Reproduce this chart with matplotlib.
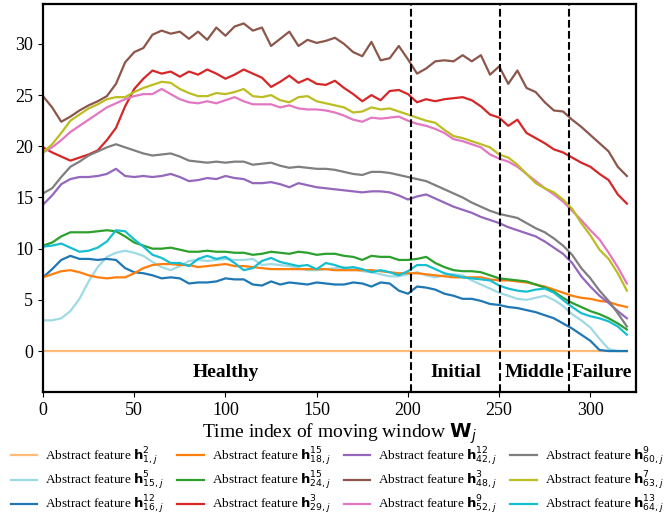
import matplotlib
matplotlib.use("Agg")
import matplotlib.pyplot as plt

plt.rcParams['font.family'] = ['Liberation Serif', 'DejaVu Sans']
plt.rcParams['mathtext.fontset'] = 'dejavusans'

# time index (sampled every 5 windows)
t = list(range(0, 321, 5))

# abstract feature curves
h1_2 = [0.0] * len(t)
h15_5 = [3.0, 3.0, 3.2, 3.9, 5.1, 6.8, 8.2, 9.2, 9.6, 9.8, 9.6, 9.3, 8.7, 8.2, 7.9, 8.3,
         8.8, 8.9, 8.8, 8.9, 9.0, 8.9, 8.9, 9.0, 8.4, 8.5, 8.4, 8.3, 8.1, 7.9, 7.9, 8.0,
         8.1, 8.2, 8.0, 7.8, 7.7, 7.5, 7.3, 7.3, 7.5, 7.7, 7.4, 7.2, 7.4, 7.5, 7.4, 6.9,
         6.5, 6.1, 5.7, 5.4, 5.1, 5.0, 5.2, 5.4, 5.0, 4.4, 3.6, 3.0, 2.3, 1.2, 0.2, 0.0, 0.0]
h16_12 = [7.2, 8.0, 8.9, 9.3, 9.0, 9.0, 8.9, 9.0, 8.9, 8.1, 7.7, 7.6, 7.4, 7.1, 7.2, 7.1,
          6.6, 6.7, 6.7, 6.8, 7.1, 7.0, 7.0, 6.5, 6.4, 6.8, 6.5, 6.7, 6.6, 6.5, 6.7, 6.6,
          6.5, 6.5, 6.7, 6.6, 6.3, 6.7, 6.6, 5.9, 5.6, 6.3, 6.2, 6.0, 5.6, 5.4, 5.1, 5.1,
          4.9, 4.6, 4.5, 4.3, 4.2, 4.0, 3.8, 3.5, 3.2, 2.7, 2.2, 1.6, 1.0, 0.1, 0.0, 0.0, 0.0]
h18_15 = [7.2, 7.5, 7.8, 7.9, 7.7, 7.4, 7.2, 7.1, 7.2, 7.2, 7.6, 8.1, 8.4, 8.5, 8.5, 8.4,
          8.4, 8.2, 8.3, 8.4, 8.5, 8.3, 8.3, 8.2, 8.1, 8.0, 8.0, 8.0, 8.0, 8.0, 8.0, 8.0,
          7.9, 7.9, 7.9, 7.9, 7.9, 7.8, 7.7, 7.6, 7.6, 7.6, 7.5, 7.4, 7.3, 7.2, 7.2, 7.2,
          7.2, 7.0, 6.9, 6.9, 6.8, 6.7, 6.5, 6.3, 6.0, 5.7, 5.4, 5.2, 5.1, 4.9, 4.8, 4.5, 4.3]
h24_15 = [10.3, 10.6, 11.2, 11.6, 11.6, 11.6, 11.7, 11.8, 11.7, 11.2, 10.6, 10.3, 10.0, 10.0,
          10.1, 9.9, 9.7, 9.7, 9.8, 9.7, 9.7, 9.6, 9.6, 9.4, 9.5, 9.7, 9.6, 9.5, 9.7, 9.6,
          9.4, 9.5, 9.5, 9.3, 9.2, 8.9, 9.3, 9.2, 9.2, 8.9, 8.9, 9.0, 9.2, 8.6, 8.2, 7.9,
          7.8, 7.8, 7.7, 7.4, 7.1, 7.0, 6.9, 6.8, 6.5, 6.2, 5.8, 5.2, 4.7, 4.3, 3.9, 3.6,
          3.2, 2.7, 2.1]
h29_3 = [19.9, 19.4, 19.0, 18.6, 18.9, 19.2, 19.6, 20.6, 21.8, 23.9, 25.6, 26.6, 27.4, 27.1,
         27.3, 26.8, 27.3, 27.0, 27.5, 27.1, 26.6, 27.0, 27.5, 27.1, 26.7, 25.8, 26.3, 26.9,
         26.2, 26.6, 26.1, 26.0, 26.4, 25.7, 25.1, 24.4, 25.0, 24.5, 25.4, 25.5, 25.1, 24.3,
         24.6, 24.4, 24.6, 24.7, 24.8, 24.5, 23.9, 23.1, 22.8, 22.0, 22.6, 21.3, 20.8, 20.3,
         19.7, 19.4, 18.9, 18.4, 18.0, 17.3, 16.7, 15.3, 14.4]
h42_12 = [14.3, 15.2, 16.3, 16.8, 17.0, 17.0, 17.1, 17.3, 17.8, 17.1, 17.0, 17.1, 17.0, 17.1,
          17.3, 17.0, 16.6, 16.7, 16.9, 16.8, 17.1, 16.9, 16.8, 16.4, 16.4, 16.5, 16.3, 16.0,
          16.4, 16.2, 16.0, 15.9, 15.8, 15.7, 15.6, 15.5, 15.6, 15.6, 15.5, 15.2, 14.8, 15.1,
          15.3, 14.9, 14.5, 14.1, 13.8, 13.5, 13.1, 12.8, 12.5, 12.1, 11.8, 11.5, 11.2, 10.7,
          10.1, 9.5, 8.6, 7.3, 6.3, 5.4, 4.7, 3.9, 3.2]
h48_3 = [24.9, 23.8, 22.4, 22.9, 23.5, 24.0, 24.4, 24.9, 26.1, 28.2, 29.2, 29.6, 30.9, 31.3,
         31.0, 31.2, 30.5, 31.2, 30.4, 31.6, 30.8, 31.7, 32.0, 31.3, 31.6, 29.8, 30.5, 31.2,
         29.8, 30.4, 30.1, 30.3, 30.6, 30.0, 29.2, 28.8, 30.2, 28.4, 28.6, 29.8, 28.5, 27.1,
         27.6, 28.3, 28.4, 28.3, 28.9, 28.3, 28.9, 27.0, 27.8, 26.1, 27.4, 25.7, 25.3, 24.3,
         23.5, 23.4, 22.6, 21.9, 21.1, 20.3, 19.5, 18.0, 17.1]
h52_9 = [19.4, 19.9, 20.6, 21.4, 22.0, 22.6, 23.2, 23.8, 24.2, 24.6, 24.9, 25.1, 25.1, 25.6,
         25.1, 24.6, 24.3, 24.2, 24.4, 24.2, 24.5, 24.8, 24.4, 24.1, 24.1, 24.1, 23.8, 24.0,
         23.7, 23.6, 23.6, 23.5, 23.3, 23.0, 22.6, 22.4, 22.8, 22.7, 22.8, 22.9, 22.5, 22.2,
         22.0, 21.7, 21.3, 20.7, 20.5, 20.2, 19.9, 19.2, 18.8, 18.5, 18.0, 17.3, 16.6, 15.9,
         15.3, 14.6, 13.7, 12.8, 11.8, 10.9, 9.6, 8.2, 6.6]
h60_9 = [15.4, 15.9, 17.0, 18.0, 18.5, 19.1, 19.5, 19.9, 20.2, 19.9, 19.6, 19.3, 19.1, 19.2,
         19.3, 19.0, 18.6, 18.5, 18.4, 18.5, 18.4, 18.5, 18.5, 18.2, 18.3, 18.4, 18.1, 17.9,
         18.0, 17.9, 17.8, 17.8, 17.7, 17.5, 17.3, 17.2, 17.5, 17.5, 17.4, 17.2, 17.0, 16.8,
         16.6, 16.2, 15.8, 15.4, 15.0, 14.5, 14.1, 13.7, 13.4, 13.2, 13.0, 12.5, 12.0, 11.6,
         11.0, 10.3, 9.4, 8.1, 7.1, 5.9, 4.9, 3.7, 2.4]
h63_7 = [19.4, 20.2, 21.3, 22.5, 23.1, 23.7, 24.1, 24.6, 24.8, 24.8, 25.3, 25.7, 26.0, 26.3,
         26.2, 25.6, 25.2, 24.9, 24.9, 25.2, 25.1, 25.3, 25.6, 24.9, 24.8, 25.0, 24.5, 24.3,
         24.8, 24.9, 24.4, 24.2, 24.0, 23.8, 23.3, 23.4, 23.8, 23.6, 23.7, 23.4, 23.1, 22.8,
         22.5, 22.3, 21.6, 21.0, 20.8, 20.5, 20.2, 19.9, 19.2, 18.9, 18.2, 17.3, 16.4, 15.9,
         15.5, 14.8, 13.9, 12.5, 11.3, 9.9, 9.0, 7.6, 5.9]
h64_13 = [10.2, 10.3, 10.5, 10.1, 9.7, 9.8, 10.1, 10.7, 11.8, 11.7, 10.9, 10.2, 9.4, 9.1,
          8.6, 8.6, 8.3, 9.0, 9.3, 9.0, 9.2, 8.6, 7.9, 8.1, 8.8, 9.1, 8.7, 8.5, 8.3, 8.4,
          8.0, 8.6, 8.4, 8.1, 8.2, 8.0, 7.7, 7.9, 7.7, 7.4, 7.8, 8.4, 8.4, 8.0, 7.6, 7.4,
          7.2, 7.1, 7.0, 6.9, 6.4, 6.1, 5.9, 5.8, 6.0, 6.1, 5.7, 5.0, 4.3, 3.7, 3.4, 3.2,
          2.9, 2.4, 1.6]

series = [h1_2, h15_5, h16_12, h18_15, h24_15, h29_3, h42_12, h48_3, h52_9, h60_9, h63_7, h64_13]
labels = [r'Abstract feature $\mathbf{h}^{2}_{1,j}$',
          r'Abstract feature $\mathbf{h}^{5}_{15,j}$',
          r'Abstract feature $\mathbf{h}^{12}_{16,j}$',
          r'Abstract feature $\mathbf{h}^{15}_{18,j}$',
          r'Abstract feature $\mathbf{h}^{15}_{24,j}$',
          r'Abstract feature $\mathbf{h}^{3}_{29,j}$',
          r'Abstract feature $\mathbf{h}^{12}_{42,j}$',
          r'Abstract feature $\mathbf{h}^{3}_{48,j}$',
          r'Abstract feature $\mathbf{h}^{9}_{52,j}$',
          r'Abstract feature $\mathbf{h}^{9}_{60,j}$',
          r'Abstract feature $\mathbf{h}^{7}_{63,j}$',
          r'Abstract feature $\mathbf{h}^{13}_{64,j}$']
colors = ['#ffbb78', '#9edae5', '#1f77b4', '#ff7f0e', '#2ca02c', '#d62728',
          '#9467bd', '#8c564b', '#e377c2', '#7f7f7f', '#bcbd22', '#17becf']

# stage boundaries and names
boundaries = [201.5, 250.5, 288.5]
stages = ['Healthy', 'Initial', 'Middle', 'Failure']
stage_x = [100, 226, 269.5, 306.5]

fig = plt.figure(figsize=(6.68, 5.19), dpi=100)
ax = fig.add_axes([43 / 668, 1 - 392 / 519, 593 / 668, 388 / 519])

for y, lab, c in zip(series, labels, colors):
    ax.plot(t, y, color=c, lw=1.6, label=lab)

for b in boundaries:
    ax.axvline(b, color='black', ls='--', lw=1.5)

for name, x in zip(stages, stage_x):
    ax.text(x, -2.5, name, ha='center', va='baseline', fontsize=14, fontweight='bold')

ax.set_xlim(0, 325)
ax.set_ylim(-4, 33.9)
ax.set_xticks([0, 50, 100, 150, 200, 250, 300])
ax.set_yticks([0, 5, 10, 15, 20, 25, 30])
ax.tick_params(labelsize=13)
for s in ax.spines.values():
    s.set_linewidth(1.6)
ax.set_xlabel(r'Time index of moving window $\mathbf{W}_j$', fontsize=14, labelpad=2)

fig.legend(loc='upper left', bbox_to_anchor=(11 / 668, 1 - 446 / 519), ncol=4, frameon=False,
           fontsize=9.5, handlelength=2.0, handletextpad=0.6, columnspacing=1.0,
           labelspacing=0.14, borderpad=0.0, borderaxespad=0.0)

fig.savefig('out.png', dpi=100)
